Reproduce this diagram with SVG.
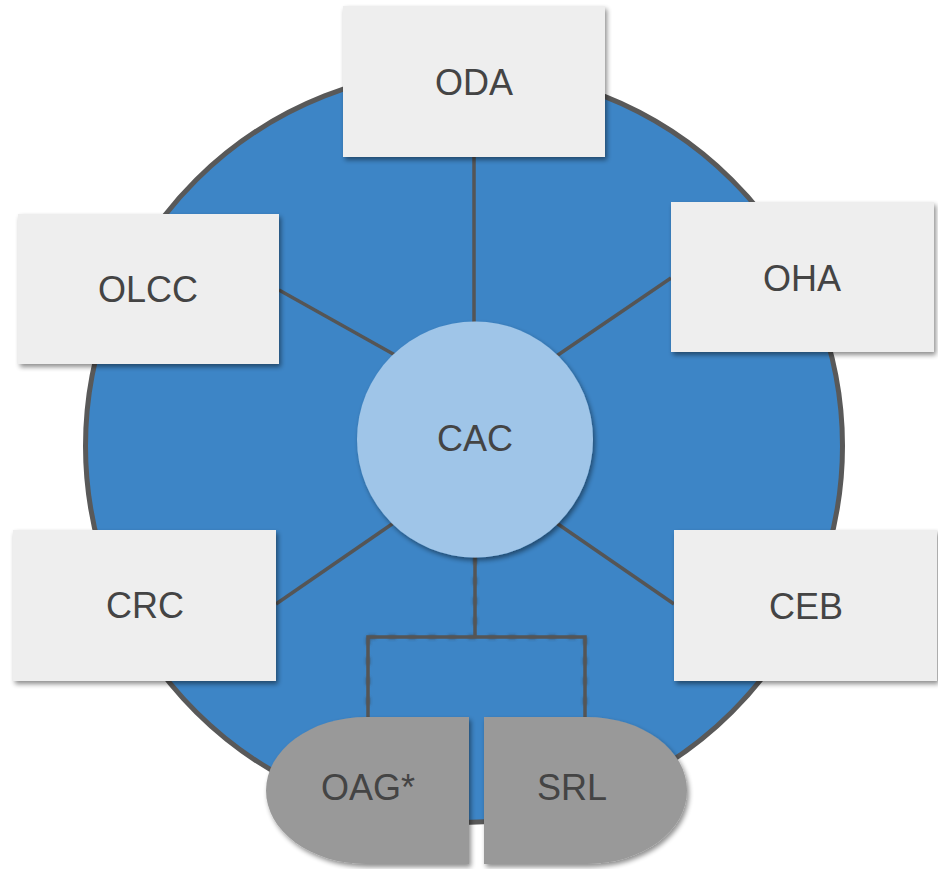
<svg xmlns="http://www.w3.org/2000/svg" width="938" height="869" viewBox="0 0 938 869">
<defs>
<filter id="sh" x="-10%" y="-10%" width="130%" height="130%">
<feGaussianBlur in="SourceAlpha" stdDeviation="2.5"/>
<feOffset dx="2" dy="3" result="b"/>
<feComponentTransfer><feFuncA type="linear" slope="0.45"/></feComponentTransfer>
<feMerge><feMergeNode/><feMergeNode in="SourceGraphic"/></feMerge>
</filter>
<filter id="blur" x="-50%" y="-50%" width="200%" height="200%">
<feGaussianBlur stdDeviation="1.5"/>
</filter>
</defs>
<style>
.box{fill:#eeeeee;filter:url(#sh)}
.pill{fill:#999999;filter:url(#sh)}
.lbl{font-family:"Liberation Sans",Arial,sans-serif;font-size:36px;fill:#444444;text-anchor:middle}
.con{stroke:#555555;stroke-width:3.5;fill:none}
.dash{stroke:#3a3a3a;stroke-width:4;fill:none;stroke-dasharray:8 12;opacity:0.6;filter:url(#blur)}
</style>
<g id="background">
<ellipse cx="464" cy="446" rx="378.5" ry="376.5" fill="#3d85c6" stroke="#595959" stroke-width="5"/>
</g>
<g id="connectors">
<line class="con" x1="474" y1="157" x2="474" y2="330"/>
<line class="con" x1="279" y1="290" x2="395" y2="355"/>
<line class="con" x1="671" y1="278" x2="555" y2="357"/>
<line class="con" x1="276" y1="604" x2="395" y2="522"/>
<line class="con" x1="674" y1="604" x2="555" y2="522"/>
<path class="dash" d="M475 557 V637 M368 637 H585 M368 637 V717 M585 637 V717"/>
<path class="con" d="M475 550 V637 M368 717 V637 H585 V717"/>
</g>
<g id="CAC">
<circle cx="475" cy="439.5" r="118" fill="#9fc5e8" filter="url(#sh)"/>
<text class="lbl" x="475" y="451">CAC</text>
</g>
<g id="ODA">
<rect class="box" x="343" y="6" width="262" height="151"/>
<text class="lbl" x="474" y="95">ODA</text>
</g>
<g id="OLCC">
<rect class="box" x="18" y="214" width="261" height="150"/>
<text class="lbl" x="148" y="302">OLCC</text>
</g>
<g id="OHA">
<rect class="box" x="671" y="202" width="263" height="150"/>
<text class="lbl" x="802" y="291">OHA</text>
</g>
<g id="CRC">
<rect class="box" x="13" y="530" width="263" height="151"/>
<text class="lbl" x="145" y="618">CRC</text>
</g>
<g id="CEB">
<rect class="box" x="674" y="530" width="263" height="151"/>
<text class="lbl" x="806" y="619">CEB</text>
</g>
<g id="OAG">
<path class="pill" d="M469 717 V864 H366 A100 73.5 0 0 1 366 717 Z"/>
<text class="lbl" x="368" y="800">OAG*</text>
</g>
<g id="SRL">
<path class="pill" d="M484 717 V864 H587 A100 73.5 0 0 0 587 717 Z"/>
<text class="lbl" x="572" y="800">SRL</text>
</g>
</svg>
